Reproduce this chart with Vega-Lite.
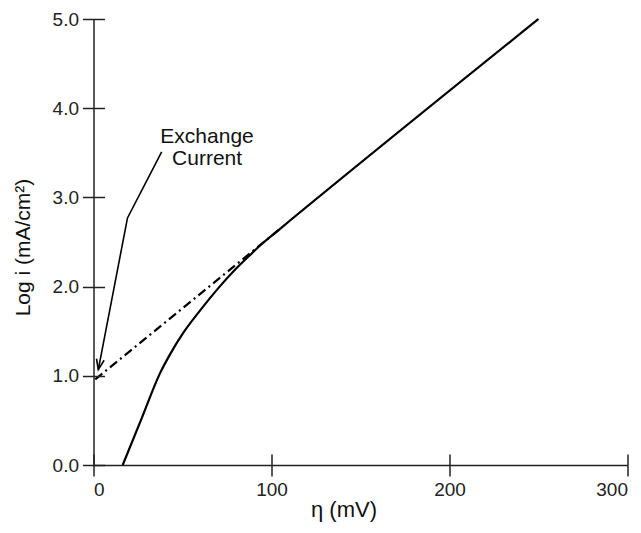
{
  "$schema": "https://vega.github.io/schema/vega-lite/v6.json",
  "autosize": "none",
  "width": 534,
  "height": 446,
  "padding": {"left": 93.5, "top": 19, "right": 13.5, "bottom": 68},
  "background": "white",
  "config": {
    "view": {"stroke": null},
    "font": "Liberation Sans",
    "axis": {
      "domainColor": "#222",
      "tickColor": "#222",
      "domainWidth": 1.5,
      "tickWidth": 1.5,
      "grid": false,
      "labelFont": "Liberation Sans",
      "titleFont": "Liberation Sans",
      "labelColor": "#222",
      "titleColor": "#111",
      "labelFontSize": 19,
      "titleFontWeight": "normal"
    }
  },
  "datasets": {
    "solid": [
      {"eta": 16.4, "logi": 0.0},
      {"eta": 27, "logi": 0.52},
      {"eta": 37.4, "logi": 1.03},
      {"eta": 43, "logi": 1.24},
      {"eta": 50.4, "logi": 1.48},
      {"eta": 59.8, "logi": 1.73},
      {"eta": 70, "logi": 1.98},
      {"eta": 80, "logi": 2.2},
      {"eta": 88, "logi": 2.355},
      {"eta": 95, "logi": 2.486},
      {"eta": 105, "logi": 2.651},
      {"eta": 250, "logi": 5.0}
    ],
    "tafel": [
      {"eta": 1, "logi": 0.96},
      {"eta": 105, "logi": 2.65}
    ],
    "arrow": [
      {"eta": 38.3, "logi": 3.51, "o": 0},
      {"eta": 19.1, "logi": 2.77, "o": 1},
      {"eta": 2.7, "logi": 1.07, "o": 2}
    ],
    "tip": [
      {"eta": 2.7, "logi": 1.07}
    ],
    "labels": [
      {"eta": 63.8, "logi": 3.607, "text": "Exchange"},
      {"eta": 63.8, "logi": 3.36, "text": "Current"}
    ]
  },
  "layer": [
    {
      "data": {"name": "solid"},
      "mark": {"type": "line", "color": "#000", "strokeWidth": 2.2, "interpolate": "monotone"},
      "encoding": {
        "x": {
          "field": "eta", "type": "quantitative",
          "scale": {"domain": [0, 300], "nice": false, "zero": false},
          "axis": {
            "values": [0, 100, 200, 300], "tickSize": 11, "labelPadding": 4,
            "title": "η (mV)", "titleFontSize": 22, "titleX": 250, "titleY": 44,
            "titleBaseline": "middle", "titleAnchor": null, "titleAlign": "center"
          }
        },
        "y": {
          "field": "logi", "type": "quantitative",
          "scale": {"domain": [0, 5], "nice": false, "zero": false},
          "axis": {
            "values": [0, 1, 2, 3, 4, 5], "format": ".1f", "tickSize": 11, "labelPadding": 4,
            "title": "Log i (mA/cm²)", "titleFontSize": 21, "titleX": -70, "titleY": 228,
            "titleAngle": -90, "titleBaseline": "middle", "titleAlign": "center", "titleAnchor": null
          }
        }
      }
    },
    {
      "data": {"name": "tafel"},
      "mark": {"type": "line", "color": "#000", "strokeWidth": 2.2, "strokeDash": [9, 4, 2, 4]},
      "encoding": {
        "x": {
          "field": "eta", "type": "quantitative",
          "axis": {"orient": "bottom", "offset": -11, "values": [0, 100, 200, 300], "ticks": true, "tickSize": 11, "tickColor": "#222", "labels": false, "domain": false, "title": " ", "titleFontSize": 1, "zindex": 1}
        },
        "y": {
          "field": "logi", "type": "quantitative",
          "axis": {"orient": "left", "offset": -11, "values": [0, 1, 2, 3, 4, 5], "ticks": true, "tickSize": 11, "tickColor": "#222", "labels": false, "domain": false, "title": " ", "titleFontSize": 1, "zindex": 1}
        }
      }
    },
    {
      "data": {"name": "arrow"},
      "mark": {"type": "line", "color": "#000", "strokeWidth": 1.6},
      "encoding": {
        "x": {"field": "eta", "type": "quantitative", "axis": null},
        "y": {"field": "logi", "type": "quantitative", "axis": null},
        "order": {"field": "o"}
      }
    },
    {
      "data": {"name": "tip"},
      "mark": {
        "type": "point", "shape": "M -0.38 -1 L 0 0 L 0.38 -1", "filled": false,
        "stroke": "#000", "strokeWidth": 1.6, "size": 420, "angle": 11.3, "opacity": 1
      },
      "encoding": {
        "x": {"field": "eta", "type": "quantitative", "axis": null},
        "y": {"field": "logi", "type": "quantitative", "axis": null}
      }
    },
    {
      "data": {"name": "labels"},
      "mark": {"type": "text", "fontSize": 21, "align": "center", "baseline": "alphabetic", "color": "#111", "font": "Liberation Sans"},
      "encoding": {
        "x": {"field": "eta", "type": "quantitative", "axis": null},
        "y": {"field": "logi", "type": "quantitative", "axis": null},
        "text": {"field": "text"}
      }
    }
  ],
  "resolve": {"axis": {"x": "independent", "y": "independent"}}
}
